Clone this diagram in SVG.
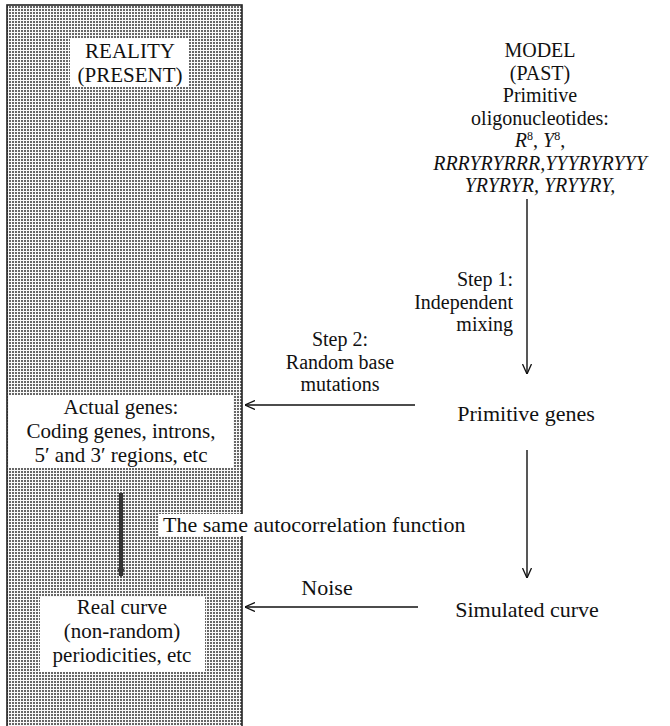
<svg xmlns="http://www.w3.org/2000/svg" width="670" height="726" viewBox="0 0 670 726" font-family="'Liberation Serif', 'Times New Roman', serif">
<style>
text{font-family:'Liberation Serif','Times New Roman',serif;font-size:22px;fill:#111}
.c{text-anchor:middle}
.r{text-anchor:end}
.i{font-style:italic}
.m{font-size:21px}
.s{font-size:20px}
.ln{stroke:#111;stroke-width:1.4;fill:none}
</style>
<defs>
<pattern id="dots" width="3" height="3" patternUnits="userSpaceOnUse">
<rect width="3" height="3" fill="#f8f8f8"/>
<rect x="0" y="0" width="2" height="2" fill="#666"/>
</pattern>
<marker id="open" viewBox="0 0 10 10" refX="10" refY="5" markerWidth="10" markerHeight="10" markerUnits="userSpaceOnUse" orient="auto">
<path d="M0,0.5 L10,5 L0,9.5" fill="none" stroke="#111" stroke-width="1.3"/>
</marker>
<marker id="solid" viewBox="0 0 10 10" refX="8" refY="5" markerWidth="9" markerHeight="9" markerUnits="userSpaceOnUse" orient="auto">
<path d="M0,1 L10,5 L0,9 Z" fill="#333"/>
</marker>
</defs>
<rect width="670" height="726" fill="#fff"/>
<g id="panel">
<rect x="7" y="5" width="235" height="730" fill="url(#dots)" stroke="#222" stroke-width="1.6"/>
</g>
<g id="reality">
<rect x="70" y="38" width="119" height="49" fill="#fff"/>
<text class="c m" x="130" y="58">REALITY</text>
<text class="c m" x="130" y="82">(PRESENT)</text>
</g>
<g id="actual-genes">
<rect x="9" y="395" width="224" height="73" fill="#fff"/>
<text class="c m" x="121" y="414">Actual genes:</text>
<text class="c m" x="121" y="438">Coding genes, introns,</text>
<text class="c m" x="121" y="462">5′ and 3′ regions, etc</text>
</g>
<g id="real-curve">
<rect x="40" y="597" width="165" height="75" fill="#fff"/>
<text class="c m" x="122" y="614">Real curve</text>
<text class="c m" x="122" y="638">(non-random)</text>
<text class="c m" x="122" y="662">periodicities, etc</text>
</g>
<g id="model">
<text class="c s" x="540" y="57">MODEL</text>
<text class="c s" x="540" y="79.5">(PAST)</text>
<text class="c s" x="540" y="102">Primitive</text>
<text class="c s" x="540" y="124.5">oligonucleotides:</text>
<text class="c s" x="540" y="147"><tspan class="i">R</tspan><tspan font-size="12" dy="-7">8</tspan><tspan dy="7">, </tspan><tspan class="i">Y</tspan><tspan font-size="12" dy="-7">8</tspan><tspan dy="7">,</tspan></text>
<text class="c s i" x="540" y="169.5">RRRYRYRRR,YYYRYRYYY</text>
<text class="c s i" x="540" y="192">YRYRYR, YRYYRY,</text>
</g>
<g id="primitive-genes">
<text class="c" x="526" y="421">Primitive  genes</text>
</g>
<g id="simulated-curve">
<text class="c" x="527" y="617">Simulated curve</text>
</g>
<g id="connectors">
<line class="ln" x1="527" y1="199" x2="527" y2="374" marker-end="url(#open)"/>
<line class="ln" x1="415" y1="405" x2="245" y2="405" marker-end="url(#open)"/>
<line class="ln" x1="527" y1="450" x2="527" y2="578" marker-end="url(#open)"/>
<line class="ln" x1="418" y1="607" x2="245" y2="607" marker-end="url(#open)"/>
<line x1="121" y1="493" x2="121" y2="576" stroke="#333" stroke-width="4" marker-end="url(#solid)"/>
</g>
<g id="labels">
<text class="r s" x="513" y="286">Step 1:</text>
<text class="r s" x="513" y="308.5">Independent</text>
<text class="r s" x="513" y="331">mixing</text>
<text class="c s" x="340" y="346">Step 2:</text>
<text class="c s" x="340" y="368.5">Random base</text>
<text class="c s" x="340" y="391">mutations</text>
<rect x="158" y="514" width="90" height="22" fill="#fff"/>
<text x="163" y="532">The same autocorrelation function</text>
<text class="c" x="327" y="595">Noise</text>
</g>
</svg>
